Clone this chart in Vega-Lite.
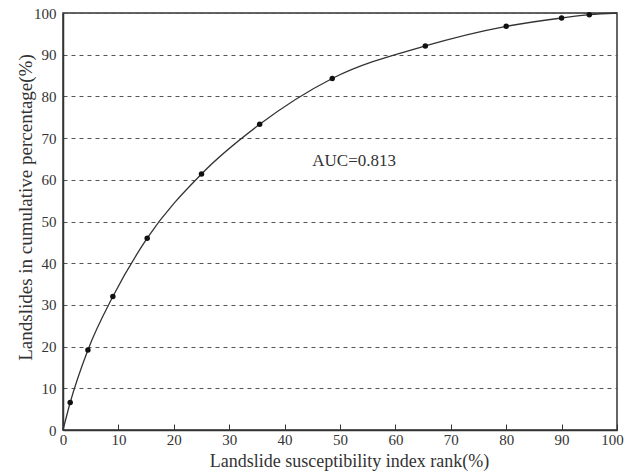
{
  "$schema": "https://vega.github.io/schema/vega-lite/v6.json",
  "width": 554,
  "height": 417,
  "autosize": {"type": "none"},
  "padding": {"left": 63, "top": 13, "right": 8, "bottom": 43},
  "background": "white",
  "config": {
    "font": "Liberation Serif",
    "view": {"stroke": "#333", "strokeWidth": 1.5},
    "axis": {
      "labelFont": "Liberation Serif",
      "titleFont": "Liberation Serif",
      "labelFontSize": 15,
      "titleFontSize": 18,
      "titleFontWeight": "normal",
      "labelColor": "#333",
      "titleColor": "#333",
      "domainColor": "#333",
      "domainWidth": 1.5,
      "tickColor": "#333"
    }
  },
  "data": {
    "values": [
      {"rank": 0, "cum": 0},
      {"rank": 1.3, "cum": 6.6},
      {"rank": 4.5, "cum": 19.2},
      {"rank": 9.0, "cum": 32.0},
      {"rank": 15.2, "cum": 46.0},
      {"rank": 25.0, "cum": 61.4},
      {"rank": 35.5, "cum": 73.3},
      {"rank": 48.6, "cum": 84.3},
      {"rank": 65.4, "cum": 92.1},
      {"rank": 80.0, "cum": 96.8},
      {"rank": 90.0, "cum": 98.8},
      {"rank": 95.0, "cum": 99.6},
      {"rank": 100, "cum": 100}
    ]
  },
  "layer": [
    {
      "encoding": {
        "x": {
          "field": "rank",
          "type": "quantitative",
          "scale": {"domain": [0, 100], "nice": false},
          "axis": {
            "title": "Landslide susceptibility index rank(%)",
            "values": [0, 10, 20, 30, 40, 50, 60, 70, 80, 90, 100],
            "tickSize": -6,
            "labelPadding": 8,
            "labelOffset": {"condition": {"test": "datum.value == 100", "value": -5}, "value": 0},
            "titleX": 286,
            "titleY": 36,
            "titleAlign": "center",
            "titleBaseline": "alphabetic",
            "grid": false,
            "labelFlush": false
          }
        },
        "y": {
          "field": "cum",
          "type": "quantitative",
          "scale": {"domain": [0, 100], "nice": false},
          "axis": {
            "title": "Landslides in cumulative percentage(%)",
            "values": [0, 10, 20, 30, 40, 50, 60, 70, 80, 90, 100],
            "ticks": false,
            "labelPadding": 7,
            "titleX": -38,
            "titleY": 194,
            "titleAngle": 270,
            "titleAlign": "center",
            "titleBaseline": "middle",
            "titleFontSize": 19,
            "grid": true,
            "gridColor": "#555",
            "gridDash": [4, 4],
            "gridWidth": 1,
            "labelFlush": false
          }
        }
      },
      "layer": [
        {
          "mark": {"type": "line", "interpolate": "monotone", "color": "#333", "strokeWidth": 1.3}
        },
        {
          "transform": [{"filter": "datum.rank > 0 && datum.rank < 100"}],
          "mark": {"type": "circle", "color": "#111", "opacity": 1, "size": 30}
        }
      ]
    },
    {
      "data": {"values": [{"label": "AUC=0.813"}]},
      "mark": {"type": "text", "align": "left", "baseline": "middle", "fontSize": 17, "color": "#333", "font": "Liberation Serif"},
      "encoding": {
        "x": {"datum": 45, "type": "quantitative"},
        "y": {"datum": 64.5, "type": "quantitative"},
        "text": {"field": "label", "type": "nominal"}
      }
    }
  ]
}
